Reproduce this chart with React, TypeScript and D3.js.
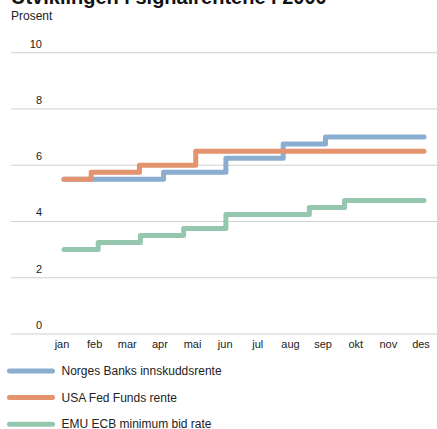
import React from "react";
import * as d3 from "d3";

const title = "Utviklingen i signalrentene i 2000";
const unitLabel = "Prosent";
const months = ["jan", "feb", "mar", "apr", "mai", "jun", "jul", "aug", "sep", "okt", "nov", "des"];
const yTicks = [0, 2, 4, 6, 8, 10];

const norgesDates = ["2000-01-01", "2000-04-09", "2000-06-10", "2000-08-06", "2000-09-17", "2000-12-24"];
const norgesValues = [5.5, 5.75, 6.25, 6.75, 7.0, 7.0];

const fedDates = ["2000-01-01", "2000-01-28", "2000-03-16", "2000-05-11", "2000-12-24"];
const fedValues = [5.5, 5.75, 6.0, 6.5, 6.5];

const ecbDates = ["2000-01-01", "2000-02-04", "2000-03-17", "2000-04-29", "2000-06-10", "2000-09-01", "2000-10-06", "2000-12-24"];
const ecbValues = [3.0, 3.25, 3.5, 3.75, 4.25, 4.5, 4.75, 4.75];

const seriesNames = ["Norges Banks innskuddsrente", "USA Fed Funds rente", "EMU ECB minimum bid rate"];
const seriesColors = ["#8badcf", "#e4936f", "#94c7ae"];

const W = 437;
const H = 429;
const FONT = "'Liberation Sans', Arial, Helvetica, sans-serif";

export default function App() {
  const parse = d3.utcParse("%Y-%m-%d");
  const x = d3
    .scaleUtc()
    .domain([parse("2000-01-01") as Date, parse("2000-12-24") as Date])
    .range([64, 424]);
  const xm = d3.scalePoint<string>().domain(months).range([62, 421]);
  const y = d3.scaleLinear().domain([0, 10]).range([334, 52.7]);

  const series = [
    { name: seriesNames[0], color: seriesColors[0], dates: norgesDates, values: norgesValues },
    { name: seriesNames[1], color: seriesColors[1], dates: fedDates, values: fedValues },
    { name: seriesNames[2], color: seriesColors[2], dates: ecbDates, values: ecbValues },
  ];

  const line = d3
    .line<[Date, number]>()
    .x((d) => x(d[0]))
    .y((d) => y(d[1]))
    .curve(d3.curveStepAfter);

  return (
    <svg
      width={W}
      height={H}
      style={{ position: "absolute", left: 0, top: 0, display: "block", background: "#fff" }}
      fontFamily={FONT}
    >
      <text x={11} y={4} fontSize={20} fontWeight="bold" fill="#111">
        {title}
      </text>
      <text x={11} y={20} fontSize={12} fill="#222">
        {unitLabel}
      </text>
      {yTicks.map((t) => (
        <g key={t}>
          <line x1={11} x2={437} y1={y(t)} y2={y(t)} stroke="#d0d0d0" strokeWidth={1} />
          <text x={42} y={y(t) - 5} fontSize={11} textAnchor="end" fill="#222">
            {t}
          </text>
        </g>
      ))}
      {months.map((m) => (
        <text key={m} x={xm(m)} y={347.5} fontSize={11} textAnchor="middle" fill="#222">
          {m}
        </text>
      ))}
      {series.map((s) => {
        const pts: [Date, number][] = s.dates.map((d, i) => [parse(d) as Date, s.values[i]]);
        return (
          <path
            key={s.name}
            d={line(pts) || ""}
            fill="none"
            stroke={s.color}
            strokeWidth={5}
            strokeLinecap="round"
            strokeLinejoin="round"
          />
        );
      })}
      {series.map((s, i) => {
        const cy = 371 + i * 26.6;
        return (
          <g key={s.name}>
            <line x1={9.5} x2={52.5} y1={cy} y2={cy} stroke={s.color} strokeWidth={5} strokeLinecap="round" />
            <text x={61.5} y={cy + 4} fontSize={12} fill="#222">
              {s.name}
            </text>
          </g>
        );
      })}
    </svg>
  );
}
